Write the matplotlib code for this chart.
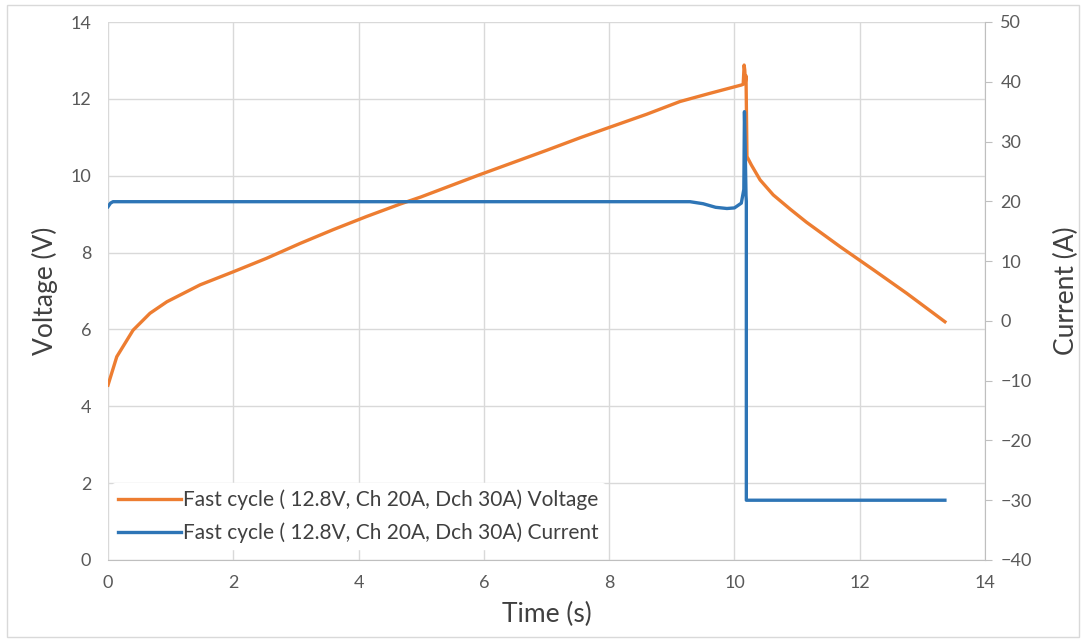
import matplotlib
matplotlib.use("Agg")
import matplotlib.pyplot as plt
from matplotlib.patches import Rectangle

plt.rcParams['font.family'] = ['Lato', 'DejaVu Sans']

# Voltage series
t_volt = [0, 0.14, 0.40, 0.67, 0.94, 1.47, 2.0, 2.53, 3.07, 3.6, 4.13, 4.66, 5.0, 5.94, 7.0, 7.54, 7.99,
          8.6, 9.13, 9.6, 10.11, 10.14, 10.155, 10.165, 10.175, 10.185, 10.2, 10.27, 10.41, 10.62, 10.89,
          11.15, 11.69, 12.22, 12.75, 13.36]
voltage = [4.55, 5.29, 5.98, 6.42, 6.72, 7.16, 7.5, 7.85, 8.24, 8.60, 8.94, 9.26, 9.45, 10.03, 10.66, 10.99, 11.25,
           11.6, 11.93, 12.14, 12.36, 12.38, 12.88, 12.75, 12.45, 12.6, 10.5, 10.28, 9.89, 9.5, 9.13,
           8.79, 8.15, 7.55, 6.94, 6.2]

# Current series
t_curr = [0, 0.04, 0.08, 0.3, 9.29, 9.5, 9.7, 9.88, 10.0, 10.11, 10.15, 10.16, 10.17, 10.18, 10.185, 10.19, 10.19, 13.36]
current = [19.1, 19.7, 19.94, 19.94, 19.94, 19.6, 19.0, 18.8, 18.9, 19.7, 22.0, 35.0, 30.0, 24.0, 21.0, 20.0, -30.0, -30.0]

x_ticks = [0, 2, 4, 6, 8, 10, 12, 14]
v_ticks = [0, 2, 4, 6, 8, 10, 12, 14]
i_ticks = [-40, -30, -20, -10, 0, 10, 20, 30, 40, 50]

label_v = "Fast cycle ( 12.8V, Ch 20A, Dch 30A) Voltage"
label_i = "Fast cycle ( 12.8V, Ch 20A, Dch 30A) Current"

c_orange = '#ED7D31'
c_blue = '#2E75B6'
grid_c = '#D9D9D9'
text_c = '#595959'

fig = plt.figure(figsize=(10.86, 6.42), dpi=100)
ax = fig.add_axes([108/1086, 1-560/642, (985-108)/1086, (560-22)/642])
ax2 = ax.twinx()

lv, = ax.plot(t_volt, voltage, color=c_orange, lw=2.4, label=label_v, zorder=3)
li, = ax2.plot(t_curr, current, color=c_blue, lw=2.4, label=label_i, zorder=3)

ax.set_xlim(0, 14)
ax.set_ylim(0, 14)
ax2.set_ylim(-40, 50)
ax.set_xticks(x_ticks)
ax.set_yticks(v_ticks)
ax2.set_yticks(i_ticks)

ax.grid(True, color=grid_c, lw=1)
ax.set_axisbelow(True)

for a in (ax, ax2):
    for s in a.spines.values():
        s.set_visible(False)
ax2.spines['right'].set_visible(True)
ax2.spines['right'].set_color('#BFBFBF')
ax.spines['bottom'].set_visible(True)
ax.spines['bottom'].set_color('#BFBFBF')

ax.tick_params(axis='x', length=0, labelsize=13, labelcolor=text_c, pad=11)
ax.tick_params(axis='y', length=0, labelsize=13, labelcolor=text_c, pad=12)
ax2.tick_params(axis='y', length=5, color='#BFBFBF', labelsize=13, labelcolor=text_c, pad=6)

ax.set_xlabel("Time (s)", fontsize=19, color='#404040', labelpad=8)
ax.set_ylabel("Voltage (V)", fontsize=19, color='#404040', labelpad=9)
ax2.set_ylabel("Current (A)", fontsize=19, color='#404040', labelpad=16)

ax2.set_zorder(ax.get_zorder() + 1)
ax2.patch.set_visible(False)

leg = ax2.legend(handles=[lv, li], loc='lower left', bbox_to_anchor=(0.0, 0.012),
                 frameon=True, fontsize=15, handlelength=3.0, handletextpad=0.1,
                 labelspacing=0.6, borderaxespad=0.2, borderpad=0.3, labelcolor='#404040')
leg.get_frame().set_edgecolor('white')
leg.get_frame().set_facecolor('white')
leg.get_frame().set_alpha(1)

fig.patches.append(Rectangle((0.006, 0.008), 0.988, 0.984, transform=fig.transFigure,
                             fill=False, edgecolor='#D9D9D9', lw=1))

fig.savefig("out.png", dpi=100)
